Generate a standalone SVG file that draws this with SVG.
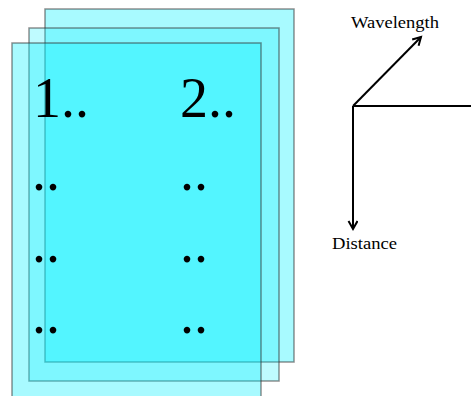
<svg xmlns="http://www.w3.org/2000/svg" width="471" height="396" viewBox="0 0 471 396">
  <defs>
    <style>
      .sheet { fill: #00f0ff; stroke: #333333; stroke-opacity: 0.55; stroke-width: 1.5; }
      .big { font-family: "Liberation Serif", "Times New Roman", serif; font-size: 56px; fill: #000; }
      .lbl { font-family: "Liberation Serif", "Times New Roman", serif; font-size: 16px; fill: #000; }
      .axis { stroke: #000; stroke-width: 2; fill: none; }
    </style>
    <marker id="arrow" markerUnits="userSpaceOnUse" markerWidth="12" markerHeight="12" refX="9" refY="5" orient="auto">
      <path d="M1,0.5 L9,5 L1,9.5" fill="none" stroke="#000" stroke-width="2"/>
    </marker>
  </defs>
  <rect width="471" height="396" fill="#ffffff"/>

  <g id="sheet-back">
    <rect class="sheet" x="45" y="9" width="249" height="353" fill-opacity="0.34"/>
  </g>
  <g id="sheet-middle">
    <rect class="sheet" x="29" y="28" width="250" height="353" fill-opacity="0.25"/>
  </g>
  <g id="sheet-front">
    <rect class="sheet" x="12" y="43" width="249" height="362" fill-opacity="0.34"/>
    <text class="big" x="33" y="117">1..</text>
    <text class="big" x="180" y="117">2..</text>
    <text class="big" x="32" y="190">..</text>
    <text class="big" x="180" y="190">..</text>
    <text class="big" x="32" y="262">..</text>
    <text class="big" x="180" y="262">..</text>
    <text class="big" x="32" y="333">..</text>
    <text class="big" x="180" y="333">..</text>
  </g>

  <g id="connectors">
    <line class="axis" x1="353" y1="106" x2="472" y2="106"/>
    <line class="axis" x1="353" y1="106" x2="353" y2="229" marker-end="url(#arrow)"/>
    <line class="axis" x1="353" y1="106" x2="421" y2="37" marker-end="url(#arrow)"/>
  </g>

  <g id="label-wavelength">
    <text class="lbl" x="351" y="28" textLength="88" lengthAdjust="spacingAndGlyphs">Wavelength</text>
  </g>
  <g id="label-distance">
    <text class="lbl" x="332" y="249" textLength="65" lengthAdjust="spacingAndGlyphs">Distance</text>
  </g>
</svg>
